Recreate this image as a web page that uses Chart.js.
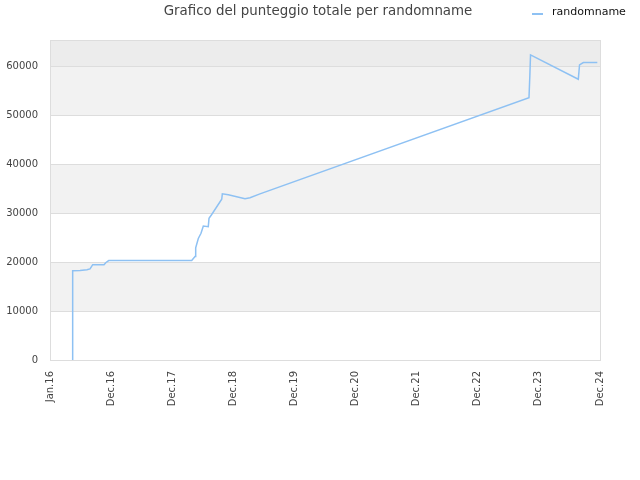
<!DOCTYPE html>
<html>
<head>
<meta charset="utf-8">
<title>Grafico del punteggio totale</title>
<script src="https://cdn.jsdelivr.net/npm/chart.js@4"></script>
<style>
  html, body { margin: 0; padding: 0; background: #fff; }
  #wrap { width: 640px; height: 480px; }
</style>
</head>
<body>
<div id="wrap"><canvas id="myChart" width="640" height="480"></canvas></div>
<script>
// x positions are in "tick units": 0 = Jan.16, 1 = Dec.16, ... 9 = Dec.24
const tickLabels = ["Jan.16", "Dec.16", "Dec.17", "Dec.18", "Dec.19", "Dec.20", "Dec.21", "Dec.22", "Dec.23", "Dec.24"];
const yTickValues = [0, 10000, 20000, 30000, 40000, 50000, 60000];
const xPositions = [0.371, 0.371, 0.491, 0.605, 0.655, 0.699, 0.884, 0.916, 0.961, 2.319,
  2.373, 2.384, 2.427, 2.471, 2.509, 2.590, 2.602, 2.646, 2.810, 2.820,
  2.918, 3.191, 3.273, 3.436, 7.838, 7.852, 7.863, 8.645, 8.665, 8.727, 8.956];
const scores = [0, 18200, 18250, 18400, 18600, 19450, 19450, 19900, 20300, 20300,
  21100, 22900, 24800, 25850, 27350, 27200, 28900, 29700, 32800, 33900,
  33700, 32900, 33100, 33900, 53500, 58000, 62250, 57300, 60200, 60700, 60700];
const seriesName = "randomname";
const chartTitle = "Grafico del punteggio totale per randomname";

const points = xPositions.map(function (x, i) { return { x: x, y: scores[i] }; });

// alternating background bands, grid lines, plot border, title and legend
const bandsPlugin = {
  id: 'bands',
  beforeDatasetsDraw: function (chart) {
    const ctx = chart.ctx;
    const area = chart.chartArea;
    const y = chart.scales.y;
    ctx.save();
    for (let i = 0; i < yTickValues.length; i++) {
      const lo = yTickValues[i];
      const hi = i + 1 < yTickValues.length ? yTickValues[i + 1] : y.max;
      let color = null;
      if (i === yTickValues.length - 1) color = '#ececec';
      else if (i % 2 === 1) color = '#f2f2f2';
      if (!color) continue;
      const top = y.getPixelForValue(hi);
      const bot = y.getPixelForValue(lo);
      ctx.fillStyle = color;
      ctx.fillRect(area.left, top, area.right - area.left, bot - top);
    }
    ctx.strokeStyle = '#dddddd';
    ctx.lineWidth = 1;
    yTickValues.forEach(function (v) {
      const py = Math.round(y.getPixelForValue(v)) + 0.5;
      ctx.beginPath();
      ctx.moveTo(area.left, py);
      ctx.lineTo(area.right, py);
      ctx.stroke();
    });
    ctx.strokeRect(Math.round(area.left) + 0.5, Math.round(area.top) + 0.5,
      Math.round(area.right - area.left), Math.round(area.bottom - area.top));
    ctx.restore();
  },
  afterDraw: function (chart) {
    const ctx = chart.ctx;
    ctx.save();
    ctx.fillStyle = '#444444';
    ctx.font = '13.4px "DejaVu Sans"';
    ctx.textAlign = 'center';
    ctx.textBaseline = 'middle';
    ctx.fillText(chartTitle, 318, 12);
    ctx.strokeStyle = '#8ec1f3';
    ctx.lineWidth = 2;
    ctx.beginPath();
    ctx.moveTo(532, 14);
    ctx.lineTo(543, 14);
    ctx.stroke();
    ctx.fillStyle = '#111111';
    ctx.font = '11px "DejaVu Sans"';
    ctx.textAlign = 'left';
    ctx.fillText(seriesName, 552, 12);
    ctx.restore();
  }
};

const ctx = document.getElementById('myChart').getContext('2d');
const myChart = new Chart(ctx, {
  type: 'line',
  data: {
    datasets: [{
      label: seriesName,
      data: points,
      borderColor: '#8ec1f3',
      borderWidth: 1.5,
      pointRadius: 0,
      tension: 0,
      fill: false
    }]
  },
  plugins: [bandsPlugin],
  options: {
    responsive: false,
    animation: false,
    layout: { padding: { top: 40, right: 40, left: 0, bottom: 0 } },
    plugins: {
      legend: { display: false },
      title: { display: false },
      tooltip: { enabled: false }
    },
    scales: {
      x: {
        type: 'linear',
        min: 0,
        max: 9,
        grid: { display: false, drawTicks: false },
        border: { display: false },
        afterFit: function (scale) { scale.height = 120; },
        ticks: {
          stepSize: 1,
          autoSkip: false,
          minRotation: 90,
          maxRotation: 90,
          padding: 11,
          color: '#444444',
          font: { family: 'DejaVu Sans', size: 10 },
          callback: function (v) { return tickLabels[v]; }
        }
      },
      y: {
        type: 'linear',
        min: 0,
        max: 65300,
        grid: { display: false, drawTicks: false },
        border: { display: false },
        afterFit: function (scale) { scale.width = 50; },
        afterBuildTicks: function (scale) {
          scale.ticks = yTickValues.map(function (v) { return { value: v }; });
        },
        ticks: {
          padding: 12,
          color: '#444444',
          font: { family: 'DejaVu Sans', size: 10 },
          callback: function (v) { return String(v); }
        }
      }
    }
  }
});
</script>
</body>
</html>
